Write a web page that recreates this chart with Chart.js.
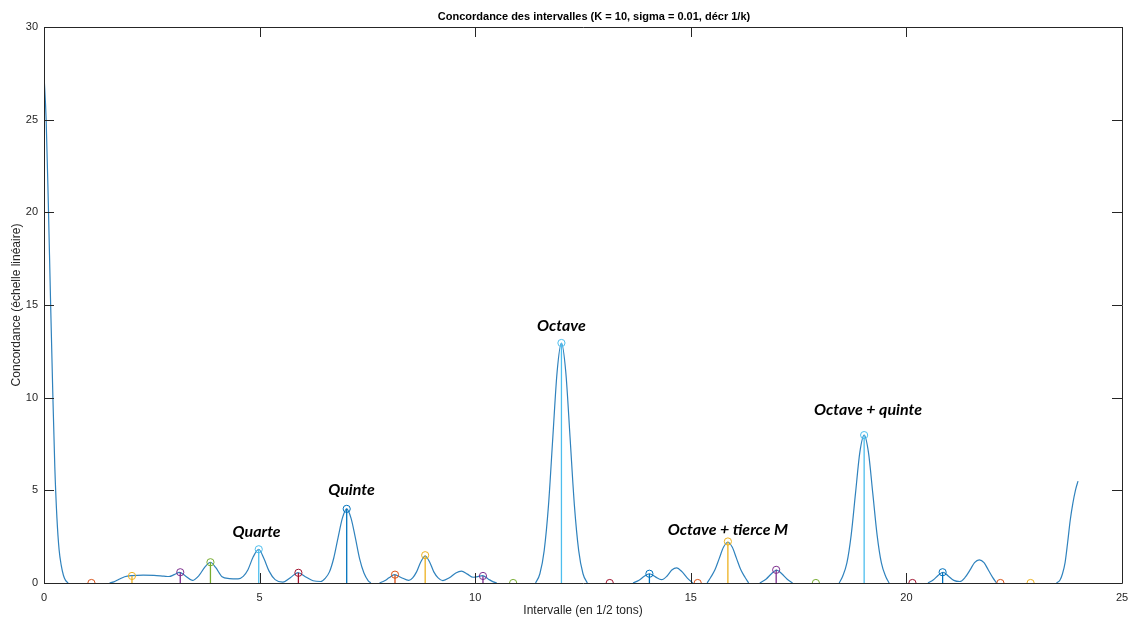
<!DOCTYPE html>
<html>
<head>
<meta charset="utf-8">
<script src="https://cdn.jsdelivr.net/npm/chart.js@4/dist/chart.umd.min.js"></script>
<style>
  html, body { margin: 0; padding: 0; background: #ffffff; }
  #wrap { width: 1131px; height: 624px; }
</style>
</head>
<body>
<div id="wrap"><canvas id="c" width="1131" height="624"></canvas></div>
<script>
// Concordance curve (null entries break the line where the curve vanishes)
const curveX = [
  0, 0.05, 0.1, 0.15, 0.2, 0.25, 0.3, 0.35, 0.4, 0.45, 0.5, 0.56,
  1.0,
  1.52, 1.62, 1.74, 1.87, 2.04, 2.3, 2.55, 2.78, 2.9, 3.02, 3.14, 3.28, 3.44, 3.6, 3.73, 3.86, 3.98,
  4.13, 4.3, 4.5, 4.62, 4.73, 4.85, 4.98, 5.1, 5.22, 5.36, 5.54, 5.72, 5.89, 6.06, 6.24, 6.42,
  6.52, 6.62, 6.72, 6.82, 6.92, 7.02, 7.12, 7.22, 7.32, 7.42, 7.52, 7.58,
  7.68,
  7.78, 7.9, 8.0, 8.13, 8.28, 8.46, 8.55, 8.64, 8.74, 8.84, 8.94, 9.04, 9.14, 9.25, 9.4, 9.55,
  9.68, 9.82, 9.95, 10.06, 10.17, 10.3, 10.42, 10.5,
  11.0,
  11.4, 11.5, 11.6, 11.7, 11.8, 11.9, 12.0, 12.1, 12.2, 12.3, 12.4, 12.5, 12.6,
  13.0,
  13.66, 13.8, 13.92, 14.04, 14.18, 14.32, 14.45, 14.56, 14.67, 14.8, 14.92, 15.05,
  15.2,
  15.38, 15.46, 15.56, 15.66, 15.76, 15.86, 15.96, 16.06, 16.16, 16.26, 16.34,
  16.45,
  16.6, 16.75, 16.87, 16.99, 17.11, 17.23, 17.36,
  17.9,
  18.44, 18.52, 18.62, 18.72, 18.82, 18.92, 19.02, 19.12, 19.22, 19.32, 19.42, 19.52, 19.6,
  20.0,
  20.5, 20.62, 20.74, 20.85, 20.97, 21.1, 21.24, 21.36, 21.48, 21.58, 21.69, 21.8, 21.9, 22.0, 22.09,
  22.8,
  23.48, 23.56, 23.62, 23.68, 23.74, 23.8, 23.86, 23.92, 23.98
];
const curveY = [
  27.4, 25.0, 20.5, 15.4, 10.6, 6.3, 3.5, 1.8, 0.95, 0.42, 0.14, 0,
  null,
  0, 0.06, 0.2, 0.34, 0.4, 0.42, 0.41, 0.37, 0.35, 0.45, 0.57, 0.38, 0.14, 0.42, 0.86, 1.12, 0.84,
  0.34, 0.24, 0.22, 0.36, 0.72, 1.4, 1.82, 1.32, 0.64, 0.18, 0.05, 0.3, 0.56, 0.34, 0.12, 0.08,
  0.25, 0.6, 1.35, 2.45, 3.5, 4.0, 3.5, 2.45, 1.3, 0.54, 0.12, 0,
  null,
  0, 0.12, 0.28, 0.45, 0.3, 0.14, 0.28, 0.6, 1.15, 1.45, 1.15, 0.6, 0.28, 0.13, 0.28, 0.54,
  0.64, 0.48, 0.31, 0.34, 0.4, 0.22, 0.06, 0,
  null,
  0, 0.5, 1.75, 4.2, 7.85, 11.4, 12.95, 11.4, 7.85, 4.2, 1.75, 0.5, 0,
  null,
  0, 0.15, 0.36, 0.5, 0.33, 0.18, 0.38, 0.7, 0.82, 0.6, 0.26, 0,
  null,
  0, 0.3, 0.71, 1.33, 1.94, 2.2, 1.94, 1.33, 0.71, 0.3, 0,
  null,
  0, 0.22, 0.5, 0.7, 0.5, 0.22, 0,
  null,
  0, 0.35, 1.08, 2.6, 4.85, 7.05, 7.98, 7.05, 4.85, 2.6, 1.08, 0.35, 0,
  null,
  0, 0.16, 0.42, 0.58, 0.38, 0.14, 0.08, 0.3, 0.72, 1.1, 1.25, 1.1, 0.7, 0.3, 0,
  null,
  0, 0.15, 0.5, 1.1, 2.2, 3.4, 4.3, 5.0, 5.5
];

// Stems: interval positions (half-tones) and concordance values
const stemX = [1.1, 2.04, 3.16, 3.86, 4.98, 5.9, 7.02, 8.14, 8.84, 10.18, 10.88, 12.0,
               13.12, 14.04, 15.16, 15.86, 16.98, 17.9, 19.02, 20.14, 20.84, 22.18, 22.88];
const stemY = [0, 0.38, 0.58, 1.12, 1.82, 0.55, 4.0, 0.45, 1.5, 0.38, 0, 12.95,
               0, 0.5, 0, 2.24, 0.71, 0, 7.98, 0, 0.58, 0, 0];

// Named intervals written above their peaks
const noteText = ['Quarte', 'Quinte', 'Octave', 'Octave + tierce M', 'Octave + quinte'];
const noteX = [4.93, 7.13, 12.0, 15.86, 19.11];
const noteY = [2.76, 5.05, 13.9, 2.89, 9.32];

// Axis ticks
const xTicks = [0, 5, 10, 15, 20, 25];
const yTicks = [0, 5, 10, 15, 20, 25, 30];

const palette = ['#0072BD', '#D95319', '#EDB120', '#7E2F8E', '#77AC30', '#4DBEEE', '#A2142F'];
const axisColor = '#262626';

const datasets = [{
  label: 'concordance',
  data: curveX.map((x, i) => ({ x: x, y: curveY[i] })),
  borderColor: '#2f82bd',
  borderWidth: 1.2,
  pointRadius: 0,
  cubicInterpolationMode: 'monotone',
  spanGaps: false,
  fill: false,
  order: 2
}];
stemX.forEach((x, i) => {
  const col = palette[(i + 1) % palette.length];
  datasets.push({
    label: 'stem' + i,
    data: [{ x: x, y: 0 }, { x: x, y: stemY[i] }],
    borderColor: col,
    borderWidth: 1.3,
    pointRadius: [0, 3.6],
    pointBorderColor: col,
    pointBackgroundColor: 'rgba(0,0,0,0)',
    pointBorderWidth: 1,
    fill: false,
    order: 1
  });
});

// Box around the axes with inward tick marks, plus the interval names
const boxAndNotes = {
  id: 'boxAndNotes',
  afterDatasetsDraw(chart) {
    const { ctx, chartArea: a, scales } = chart;
    const xs = scales.x, ys = scales.y;
    const tl = 10;
    ctx.save();
    ctx.strokeStyle = axisColor;
    ctx.lineWidth = 1;
    ctx.beginPath();
    ctx.rect(Math.round(a.left) + 0.5, Math.round(a.top) + 0.5,
             Math.round(a.right - a.left), Math.round(a.bottom - a.top));
    ctx.stroke();
    ctx.beginPath();
    xTicks.forEach(v => {
      const px = Math.round(xs.getPixelForValue(v)) + 0.5;
      ctx.moveTo(px, a.bottom); ctx.lineTo(px, a.bottom - tl);
      ctx.moveTo(px, a.top); ctx.lineTo(px, a.top + tl);
    });
    yTicks.forEach(v => {
      const py = Math.round(ys.getPixelForValue(v)) + 0.5;
      ctx.moveTo(a.left, py); ctx.lineTo(a.left + tl, py);
      ctx.moveTo(a.right, py); ctx.lineTo(a.right - tl, py);
    });
    ctx.stroke();

    ctx.fillStyle = '#000000';
    ctx.font = 'italic bold 16px Lato, "Open Sans", sans-serif';
    ctx.textAlign = 'center';
    ctx.textBaseline = 'middle';
    noteText.forEach((t, i) => {
      ctx.fillText(t, xs.getPixelForValue(noteX[i]), ys.getPixelForValue(noteY[i]));
    });

    // Title centred over the axes
    ctx.fillStyle = '#000000';
    ctx.font = 'bold 11px "Liberation Sans", Arial, sans-serif';
    ctx.fillText('Concordance des intervalles (K = 10, sigma = 0.01, décr 1/k)',
                 (a.left + a.right) / 2 + 11, 16.5);
    ctx.restore();
  }
};

new Chart(document.getElementById('c'), {
  type: 'line',
  data: { datasets: datasets },
  options: {
    responsive: false,
    animation: false,
    events: [],
    layout: { padding: { top: 27, right: 9, bottom: 0, left: 0 } },
    plugins: {
      legend: { display: false },
      tooltip: { enabled: false },
      title: { display: false }
    },
    scales: {
      x: {
        type: 'linear',
        min: 0, max: 25,
        afterFit(s) { s.height = 41; s.paddingLeft = 0; s.paddingRight = 0; },
        grid: { display: false, drawTicks: false },
        border: { display: false },
        afterBuildTicks(s) { s.ticks = xTicks.map(v => ({ value: v })); },
        ticks: {
          padding: 8,
          color: axisColor,
          font: { family: '"Liberation Sans", Arial, sans-serif', size: 11 },
          maxRotation: 0,
          autoSkip: false
        },
        title: {
          display: true,
          text: 'Intervalle (en 1/2 tons)',
          color: axisColor,
          font: { family: '"Liberation Sans", Arial, sans-serif', size: 12 },
          padding: { top: 0, bottom: 6 }
        }
      },
      y: {
        type: 'linear',
        min: 0, max: 30,
        afterFit(s) { s.width = 44; s.paddingTop = 0; s.paddingBottom = 0; },
        grid: { display: false, drawTicks: false },
        border: { display: false },
        afterBuildTicks(s) { s.ticks = yTicks.map(v => ({ value: v })); },
        ticks: {
          padding: 6,
          color: axisColor,
          font: { family: '"Liberation Sans", Arial, sans-serif', size: 11 },
          autoSkip: false
        },
        title: {
          display: true,
          text: 'Concordance (échelle linéaire)',
          color: axisColor,
          font: { family: '"Liberation Sans", Arial, sans-serif', size: 12 },
          padding: { top: 9, bottom: 0 }
        }
      }
    }
  },
  plugins: [boxAndNotes]
});
</script>
</body>
</html>
